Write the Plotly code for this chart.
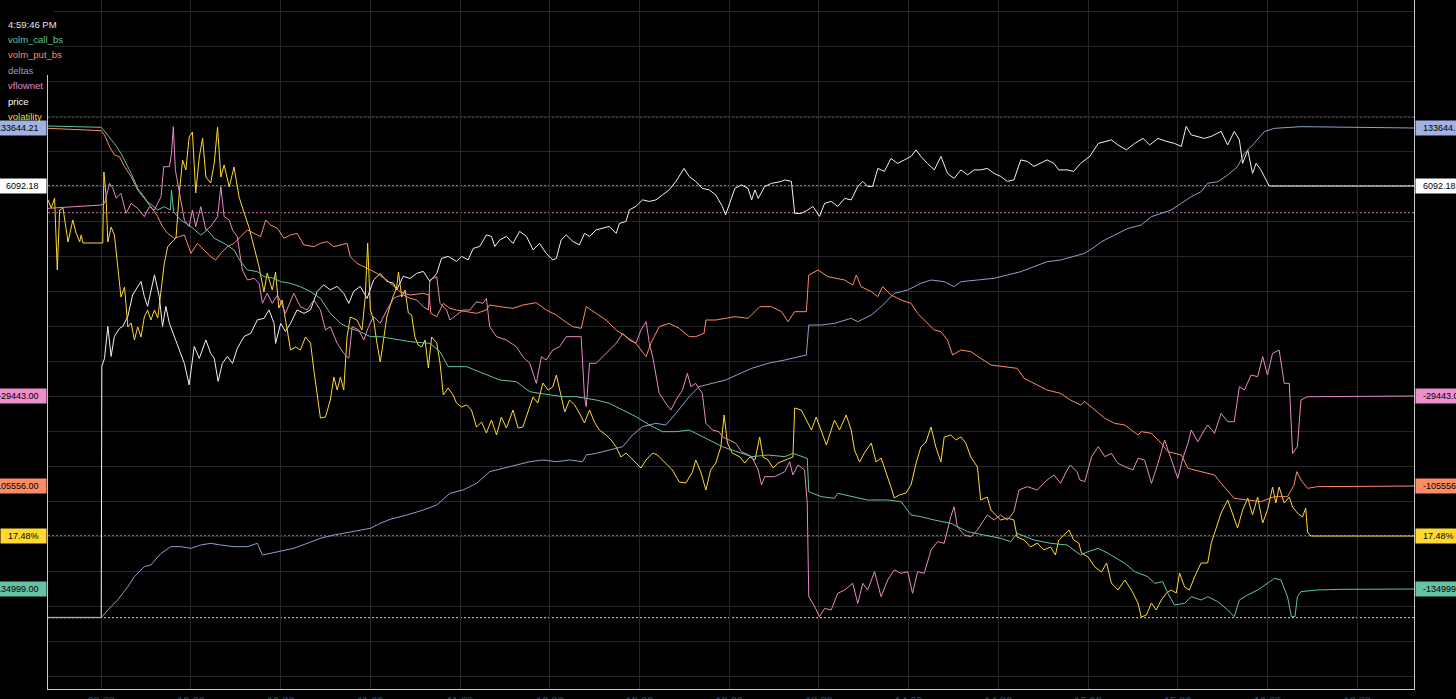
import pandas as pd
import plotly.graph_objects as go

BASE = pd.Timestamp("2024-12-20 09:30:00")

# ---- data: (minutes after 09:30, value) ----
call_pts = [(-17.8, 3901), (0, 3501), (4.4, -1299), (6.6, -4299), (10.0, -10299), (12.2, -14799), (15.5, -18799),
            (18.9, -21299), (21.1, -20299), (23.1, -21299), (23.5, -15299), (24.2, -21799), (26.6, -24299),
            (30.0, -26299), (33.3, -28799), (35.5, -27299), (37.8, -29799), (41.1, -31299), (44.4, -33299),
            (46.6, -36799), (48.9, -39299), (52.2, -39799), (54.4, -41299), (57.8, -41799), (60.0, -42799),
            (63.3, -43299), (66.6, -44299), (70.0, -45799), (73.3, -47799), (76.6, -52299), (80.0, -55299),
            (83.3, -56799), (86.6, -57799), (90.0, -59299), (93.3, -59299), (96.6, -59799), (103.3, -60799),
            (110.0, -61299), (113.3, -63799), (116.0, -68299), (122.2, -68299), (127.7, -70299), (133.3, -72299),
            (138.8, -72799), (143.3, -75799), (146.6, -76299), (154.4, -77299), (158.8, -77299), (165.5, -78299),
            (169.9, -79299), (174.4, -81299), (178.8, -83299), (183.3, -85799), (187.7, -87799), (192.2, -87799),
            (196.6, -87299), (202.2, -89799), (207.7, -92299), (217.5, -95299), (223.0, -94799), (228.6, -95299),
            (231.3, -94299), (236.1, -95799), (236.6, -105799), (240.8, -107299), (245.2, -107799),
            (246.3, -106299), (250.8, -107299), (256.3, -108299), (263.0, -108299), (267.5, -108799),
            (270.8, -112799), (274.1, -113299), (278.6, -114299), (284.1, -115299), (289.7, -117799),
            (295.2, -118799), (300.8, -119799), (304.1, -120799), (306.3, -118299), (311.9, -120299),
            (317.5, -121299), (323.0, -121799), (327.5, -124799), (330.0, -123799), (333.4, -122799),
            (336.7, -124299), (342.3, -127299), (345.6, -129799), (350.0, -131299), (352.3, -133299),
            (355.0, -132799), (356.7, -136299), (358.9, -139799), (362.3, -139299), (364.5, -137299),
            (367.8, -138299), (370.0, -137299), (373.4, -138799), (376.7, -141299), (378.9, -143299),
            (380.6, -138299), (383.4, -136799), (386.7, -135299), (390.0, -133299), (392.3, -131799),
            (394.5, -132299), (396.7, -137299), (398.0, -143299), (399.2, -143299), (400.0, -137299),
            (401.2, -135799), (406.7, -135299), (414.5, -135099), (439.0, -134999)]

put_pts = [(-17.8, 1744), (0, 1044), (1.1, -256), (2.8, -3756), (4.4, -6256), (6.1, -6756), (7.8, -9756),
           (10.0, -12756), (12.2, -16756), (14.4, -19256), (16.6, -21756), (18.9, -24756), (20.5, -27756),
           (22.2, -29756), (24.4, -31256), (26.1, -30756), (27.8, -30256), (30.0, -35756), (32.2, -32756),
           (34.4, -34756), (36.6, -36756), (38.3, -37756), (40.0, -35756), (42.2, -33756), (44.4, -32756),
           (46.6, -30756), (48.9, -28756), (51.1, -29756), (53.3, -30756), (55.0, -25756), (56.6, -27256),
           (58.9, -28256), (61.1, -31256), (63.3, -30256), (65.5, -29756), (67.8, -33256), (71.1, -33756),
           (73.3, -32756), (75.5, -32256), (77.8, -33756), (80.0, -33256), (82.2, -32756), (83.3, -36756),
           (85.5, -38756), (88.9, -40256), (92.2, -41756), (95.5, -43756), (99.9, -47256), (103.3, -48256),
           (107.7, -47756), (109.7, -48256), (110.2, -53756), (112.2, -54756), (114.4, -50756), (116.6, -52256),
           (118.8, -52756), (122.2, -53256), (125.5, -53756), (128.8, -52756), (129.9, -51256), (133.3, -51756),
           (137.7, -52256), (141.0, -51256), (145.5, -50556), (148.8, -52756), (152.2, -54256), (154.4, -55756),
           (157.7, -57756), (160.5, -58256), (162.2, -51756), (165.5, -53756), (168.8, -55756), (172.2, -58756),
           (175.5, -60756), (178.8, -62756), (182.2, -66756), (183.8, -62756), (186.6, -57756), (189.9, -56756),
           (193.3, -58256), (196.6, -60756), (198.8, -60756), (201.6, -59756), (202.2, -55756), (205.5, -55756),
           (208.8, -55256), (211.9, -54756), (216.3, -55256), (220.2, -51756), (224.1, -51756), (227.5, -53256),
           (229.7, -56256), (231.9, -53256), (235.8, -53256), (236.6, -42256), (239.7, -40756), (243.0, -42756),
           (248.6, -43756), (251.3, -45256), (252.5, -42256), (254.1, -45756), (257.5, -47256), (259.7, -48756),
           (261.3, -45756), (264.1, -48256), (267.5, -49756), (270.8, -50756), (273.0, -53756), (276.3, -56756),
           (278.6, -58756), (280.8, -59256), (283.0, -61756), (284.7, -66256), (287.5, -64756), (290.8, -65256),
           (294.1, -67256), (297.5, -69256), (301.9, -69756), (306.3, -70256), (308.6, -73256), (311.9, -74756),
           (316.3, -76756), (320.8, -77756), (324.1, -79756), (327.5, -81256), (328.9, -80256), (332.3, -82756),
           (335.6, -85256), (338.9, -86756), (342.3, -87256), (346.7, -90256), (347.8, -89256), (351.2, -89756),
           (354.5, -92756), (356.7, -95256), (361.2, -96256), (363.4, -100256), (367.8, -101256),
           (372.3, -102256), (374.5, -104756), (378.9, -109256), (383.4, -109756), (387.8, -110256),
           (392.3, -108756), (396.7, -108756), (398.9, -105256), (399.8, -101256), (401.2, -103756),
           (403.4, -106256), (406.7, -105756), (439.0, -105556)]

deltas_pts = [(-17.8, 1434), (0, 1434), (2.2, 3504), (5.5, 6204), (8.9, 9804), (11.1, 12504), (14.4, 15204),
              (16.6, 15654), (20.0, 18804), (23.3, 20604), (26.6, 20604), (30.0, 20154), (33.3, 21054),
              (36.6, 21504), (40.0, 21054), (44.4, 20604), (48.9, 20604), (52.2, 21504), (53.9, 18354),
              (56.6, 18804), (60.0, 19254), (64.4, 20154), (68.9, 21504), (73.3, 22854), (77.8, 23754),
              (82.2, 24384), (86.6, 24924), (90.0, 25554), (93.3, 26904), (96.6, 27984), (102.2, 29154),
              (107.7, 30504), (112.2, 31854), (116.6, 35004), (121.0, 35904), (125.5, 37704), (129.9, 40854),
              (134.4, 41754), (138.8, 42654), (143.3, 43554), (147.7, 44004), (152.2, 43554), (156.6, 44004),
              (161.0, 43554), (162.2, 45354), (165.5, 45804), (169.9, 46704), (174.4, 47604), (177.7, 50754),
              (181.0, 53004), (185.5, 53904), (188.8, 53454), (192.2, 56604), (196.6, 61104), (199.9, 63804),
              (204.4, 64704), (208.8, 65604), (217.5, 68754), (223.0, 70104), (228.6, 71004), (235.8, 72354),
              (236.6, 80454), (240.8, 80454), (245.2, 80904), (250.8, 82254), (253.0, 81354), (257.5, 83154),
              (260.8, 85404), (265.2, 89004), (269.7, 89904), (274.1, 91704), (277.5, 92604), (281.9, 92154),
              (285.2, 90804), (287.5, 92154), (293.0, 92604), (298.6, 93054), (303.0, 93954), (307.5, 94854),
              (311.9, 96204), (316.3, 97554), (320.8, 98004), (325.2, 98904), (328.9, 99804), (332.3, 101604),
              (334.5, 102954), (338.9, 104754), (343.4, 106554), (347.8, 107454), (351.2, 109704),
              (354.5, 110604), (357.8, 111504), (361.2, 113304), (364.5, 115104), (367.8, 116454),
              (370.0, 118704), (373.4, 119154), (376.7, 120954), (380.0, 123204), (382.3, 126804),
              (385.6, 129504), (388.9, 132654), (392.3, 133554), (401.2, 134004), (439.0, 133644.21)]

vflow_pts = [(-17.8, 26857), (0, 27857), (1.1, 28357), (2.8, 34357), (3.9, 32857), (5.0, 29857), (6.6, 31357),
             (8.3, 25357), (10.0, 28357), (12.2, 26857), (14.4, 24357), (16.1, 27357), (17.8, 26357),
             (20.0, 30357), (20.9, 39357), (22.8, 39357), (23.5, 43357), (24.1, 51357), (24.8, 38357),
             (26.1, 32357), (27.8, 23357), (29.4, 21357), (30.5, 26357), (31.6, 21357), (33.3, 27357),
             (35.0, 20357), (36.6, 21357), (38.9, 24357), (40.0, 33357), (41.1, 24357), (42.8, 23357),
             (43.9, 20357), (45.5, 18357), (47.2, 8357), (48.9, 5357), (51.1, 5857), (52.8, 4357), (53.9, -1643),
             (55.5, 1357), (57.2, -1643), (58.9, 857), (60.0, -1143), (61.6, -4643), (64.4, 1357), (66.6, -2643),
             (68.9, -3643), (71.1, -643), (73.3, -3643), (75.0, -9643), (76.6, -8643), (78.9, -13643),
             (81.1, -16643), (82.8, -18143), (83.9, -8643), (86.1, -9643), (87.8, -12643), (89.4, -8643),
             (91.1, -5643), (93.3, -7643), (95.5, -3643), (97.8, -143), (98.8, 357), (101.0, 857), (103.3, -143),
             (105.5, -643), (107.7, -2643), (109.4, -3643), (109.9, 5357), (112.2, 6357), (113.3, -1643),
             (115.5, -3643), (116.6, -6643), (118.8, -5143), (121.0, -3643), (123.3, -3643), (125.5, -1143),
             (127.7, -1643), (128.8, -143), (129.9, -8643), (132.2, -11643), (135.5, -12643), (138.8, -14643),
             (141.0, -17643), (143.3, -19643), (145.5, -25643), (147.2, -17643), (148.8, -18643),
             (151.0, -15643), (153.3, -14643), (155.5, -11643), (160.5, -11643), (161.6, -29643),
             (162.2, -32643), (163.3, -19643), (165.5, -19643), (167.7, -17643), (169.9, -15643),
             (172.2, -13643), (174.4, -10643), (176.6, -12643), (178.8, -13643), (180.5, -9643), (182.2, -7143),
             (183.3, -13643), (184.4, -17643), (185.5, -22643), (186.6, -28643), (188.8, -31643),
             (190.5, -33643), (192.2, -30643), (194.4, -27643), (196.0, -22643), (197.2, -26643),
             (198.8, -25643), (201.0, -28643), (202.2, -37643), (204.4, -39643), (206.6, -40143),
             (207.7, -41643), (209.9, -42643), (212.2, -43643), (214.1, -46143), (217.5, -47643),
             (219.7, -51643), (220.8, -56143), (221.9, -53643), (225.2, -53643), (228.6, -52143),
             (230.2, -49143), (231.3, -53143), (233.0, -50143), (235.2, -51643), (236.1, -61643),
             (236.6, -89643), (238.6, -92643), (240.2, -95643), (241.9, -93143), (244.1, -93643),
             (246.3, -88643), (248.6, -87643), (251.3, -85643), (253.0, -91643), (254.7, -85643),
             (256.3, -87643), (258.6, -82143), (260.8, -89643), (263.0, -84643), (265.2, -81643),
             (267.5, -82643), (269.7, -82143), (271.3, -88643), (273.0, -82143), (275.2, -82643),
             (277.5, -75643), (279.7, -73143), (281.9, -73643), (284.1, -65643), (285.2, -62643),
             (286.3, -68643), (288.6, -71143), (290.8, -71643), (293.0, -69643), (296.3, -65143),
             (298.6, -66643), (300.8, -65143), (303.0, -66643), (305.2, -64143), (306.9, -57643),
             (309.7, -56643), (313.0, -57643), (316.3, -54643), (318.6, -53143), (320.8, -55643),
             (323.0, -51643), (324.1, -50143), (326.3, -52143), (327.3, -54643), (328.9, -55143),
             (331.2, -47643), (333.4, -44643), (335.6, -47643), (337.8, -46643), (340.0, -49643),
             (342.3, -50643), (345.0, -51643), (346.7, -48143), (348.9, -48643), (351.2, -55643),
             (353.4, -49643), (355.6, -42643), (357.8, -48643), (360.0, -54143), (361.7, -48143),
             (363.4, -43643), (364.5, -39643), (366.7, -43143), (368.9, -39643), (370.0, -38143),
             (372.3, -40643), (374.5, -34643), (376.7, -37143), (378.9, -37143), (380.6, -26643),
             (382.3, -27643), (384.5, -23143), (386.7, -23643), (388.4, -17643), (390.0, -23143),
             (391.7, -16643), (393.9, -15643), (395.6, -25643), (397.3, -25643), (398.4, -46643),
             (400.0, -44643), (401.2, -30643), (403.4, -29643), (406.7, -29643), (439.0, -29443)]

price_pts = [(-17.8, 6005.9), (0, 6005.9), (0.2, 6056.1), (1.1, 6057.7), (2.2, 6064.1), (3.3, 6058.1),
             (4.4, 6062.1), (6.1, 6063.7), (7.2, 6064.1), (8.9, 6066.1), (10.5, 6070.4), (12.2, 6072.1),
             (13.3, 6073.1), (14.4, 6070.1), (15.5, 6068.1), (17.8, 6074.4), (19.4, 6070.1), (20.5, 6064.1),
             (21.6, 6068.1), (22.8, 6064.7), (24.4, 6062.1), (26.1, 6059.4), (27.8, 6056.7), (29.4, 6052.4),
             (31.1, 6060.1), (32.8, 6057.7), (35.0, 6061.4), (36.6, 6058.7), (37.8, 6057.7), (39.1, 6053.1),
             (40.5, 6056.7), (42.2, 6058.1), (43.9, 6056.7), (45.5, 6059.7), (47.8, 6062.1), (50.0, 6062.7),
             (52.2, 6065.4), (54.4, 6065.7), (56.1, 6067.4), (57.8, 6064.7), (58.3, 6060.7), (60.0, 6064.7),
             (61.6, 6063.1), (63.3, 6064.7), (65.5, 6067.4), (67.8, 6066.7), (70.0, 6067.4), (72.2, 6071.1),
             (74.4, 6072.4), (76.6, 6071.4), (78.9, 6072.1), (81.1, 6070.7), (82.8, 6068.7), (84.4, 6071.1),
             (86.6, 6072.1), (88.9, 6069.7), (91.1, 6073.4), (93.3, 6074.7), (95.5, 6073.1), (97.8, 6072.7),
             (98.8, 6071.4), (101.0, 6074.1), (103.3, 6073.7), (105.5, 6074.7), (107.7, 6075.1), (109.9, 6073.1),
             (112.2, 6074.7), (113.8, 6077.7), (116.0, 6078.1), (118.8, 6077.1), (120.5, 6078.1), (122.7, 6077.4),
             (124.4, 6079.7), (126.6, 6080.1), (128.8, 6082.4), (130.5, 6082.1), (131.6, 6080.1), (133.3, 6081.4),
             (135.5, 6082.1), (137.7, 6080.7), (139.9, 6083.1), (142.2, 6082.1), (144.4, 6079.4), (146.6, 6080.7),
             (148.8, 6078.7), (151.0, 6077.4), (152.2, 6077.7), (153.8, 6081.4), (155.5, 6082.4), (157.7, 6081.1),
             (159.9, 6080.4), (161.6, 6082.7), (163.3, 6082.1), (165.5, 6083.4), (167.7, 6083.7), (169.9, 6084.1),
             (172.2, 6082.7), (173.3, 6084.7), (175.5, 6085.1), (176.6, 6087.4), (178.8, 6088.1), (181.0, 6089.4),
             (183.3, 6089.1), (185.5, 6089.4), (187.7, 6090.4), (189.9, 6091.4), (192.2, 6093.1), (194.9, 6095.7),
             (196.6, 6094.1), (198.8, 6093.1), (201.0, 6091.7), (203.3, 6091.4), (205.5, 6090.4), (207.7, 6088.1),
             (208.8, 6086.4), (211.0, 6090.1), (211.9, 6091.7), (214.1, 6092.4), (216.3, 6091.7), (217.5, 6089.4),
             (218.6, 6091.4), (219.7, 6089.7), (221.9, 6092.1), (224.1, 6092.7), (227.5, 6093.1), (228.6, 6093.4),
             (230.8, 6093.1), (231.9, 6086.7), (234.1, 6086.7), (236.3, 6087.4), (238.0, 6088.1), (240.2, 6086.1),
             (241.9, 6088.7), (244.1, 6089.1), (246.3, 6088.1), (248.6, 6089.7), (250.8, 6089.4), (253.0, 6092.1),
             (254.7, 6093.1), (256.3, 6092.1), (258.0, 6092.1), (259.7, 6095.7), (261.9, 6095.1), (264.1, 6097.7),
             (266.3, 6096.7), (268.6, 6097.4), (270.8, 6098.1), (272.5, 6099.4), (274.1, 6098.1), (276.3, 6096.7),
             (278.6, 6095.4), (280.8, 6098.1), (283.0, 6094.7), (285.2, 6093.7), (287.5, 6095.4), (289.7, 6094.4),
             (291.9, 6095.4), (294.1, 6095.4), (296.3, 6095.7), (298.6, 6094.7), (300.8, 6094.1), (303.0, 6093.1),
             (305.2, 6093.4), (307.5, 6097.4), (309.7, 6097.1), (311.9, 6096.1), (314.1, 6096.7), (316.3, 6097.4),
             (318.6, 6096.7), (320.2, 6095.4), (323.0, 6095.4), (325.2, 6095.1), (327.5, 6096.7), (330.6, 6098.1),
             (333.4, 6100.7), (335.6, 6101.1), (337.8, 6101.4), (340.0, 6100.4), (342.8, 6099.4), (345.6, 6100.7),
             (348.4, 6101.7), (350.6, 6100.4), (353.4, 6101.7), (356.2, 6101.1), (358.9, 6100.7), (361.2, 6100.1),
             (362.8, 6104.1), (364.5, 6102.4), (366.7, 6102.1), (368.9, 6101.7), (371.2, 6102.1), (374.5, 6103.1),
             (376.7, 6100.4), (378.9, 6103.1), (380.6, 6101.4), (381.7, 6096.7), (383.4, 6099.4), (385.0, 6094.7),
             (386.2, 6096.7), (387.8, 6095.4), (389.5, 6093.4), (390.6, 6092.18), (439.0, 6092.18)]

vol_pts = [(-17.8, 20.84), (-16.7, 20.76), (-15.6, 20.86), (-14.7, 20.14), (-13.9, 20.74), (-12.8, 20.76),
           (-12.2, 20.64), (-11.1, 20.42), (-9.5, 20.64), (-8.4, 20.51), (-7.2, 20.42), (-6.7, 20.49),
           (-6.1, 20.41), (0.5, 20.41), (0.9, 21.12), (1.6, 20.89), (2.2, 20.42), (3.3, 20.57), (4.4, 20.49),
           (5.5, 20.21), (6.6, 19.87), (7.8, 19.97), (8.9, 19.57), (10.0, 19.61), (11.1, 19.44), (12.2, 19.57),
           (13.3, 19.47), (14.4, 19.67), (15.5, 19.74), (16.6, 19.64), (17.8, 19.74), (18.9, 19.66), (20.0, 19.94),
           (21.1, 20.21), (22.2, 20.37), (23.3, 20.41), (25.0, 20.46), (26.1, 20.91), (27.2, 21.24), (28.3, 21.14),
           (29.4, 21.47), (30.5, 21.52), (31.6, 20.91), (32.8, 21.27), (33.9, 21.46), (35.0, 21.07), (36.6, 21.01),
           (37.8, 21.21), (38.9, 21.57), (40.0, 21.07), (41.1, 21.19), (42.8, 20.97), (44.4, 21.17), (46.1, 20.87),
           (47.8, 20.71), (49.4, 20.57), (51.1, 20.37), (52.8, 20.17), (54.4, 19.92), (55.5, 20.11), (57.2, 19.94),
           (58.3, 20.12), (59.4, 19.76), (60.5, 19.84), (62.2, 19.54), (63.3, 19.34), (65.0, 19.37), (66.6, 19.34),
           (68.3, 19.47), (70.0, 19.41), (71.1, 19.14), (72.2, 18.87), (73.3, 18.66), (75.0, 18.67), (76.6, 18.84),
           (77.8, 19.07), (78.9, 18.94), (80.0, 19.07), (81.1, 18.94), (82.2, 19.47), (83.3, 19.67), (85.5, 19.64),
           (87.2, 19.54), (88.3, 19.87), (89.1, 20.41), (90.0, 19.74), (91.1, 19.64), (92.2, 19.41), (93.3, 19.22),
           (94.4, 19.44), (95.5, 19.67), (97.2, 19.84), (98.8, 19.97), (99.4, 20.12), (100.5, 19.87),
           (101.6, 19.94), (102.7, 19.71), (103.8, 19.69), (104.9, 19.47), (106.0, 19.39), (107.2, 19.37),
           (108.3, 19.44), (109.4, 19.16), (110.5, 19.47), (112.2, 19.41), (113.3, 19.21), (114.4, 18.89),
           (116.0, 18.96), (117.7, 18.89), (118.8, 18.81), (120.5, 18.77), (122.2, 18.79), (123.8, 18.74),
           (125.5, 18.57), (127.2, 18.62), (128.8, 18.51), (130.5, 18.64), (132.2, 18.49), (133.8, 18.67),
           (135.5, 18.56), (137.7, 18.74), (139.4, 18.56), (141.0, 18.57), (142.7, 18.72), (144.4, 18.87),
           (146.0, 18.81), (147.7, 19.01), (149.4, 18.94), (151.0, 18.97), (152.2, 19.09), (153.8, 18.87),
           (155.0, 18.72), (156.6, 18.84), (158.3, 18.79), (159.9, 18.71), (161.6, 18.61), (163.3, 18.74),
           (164.9, 18.62), (166.6, 18.54), (168.8, 18.49), (170.5, 18.44), (172.2, 18.37), (173.8, 18.27),
           (175.5, 18.31), (177.2, 18.26), (178.8, 18.21), (180.5, 18.16), (182.2, 18.24), (184.4, 18.31),
           (186.0, 18.29), (188.8, 18.21), (191.0, 18.14), (193.3, 18.02), (195.5, 18.01), (197.7, 18.12),
           (198.8, 18.24), (200.5, 18.12), (202.2, 17.94), (203.8, 18.14), (205.5, 18.21), (207.2, 18.37),
           (208.3, 18.69), (209.4, 18.41), (211.0, 18.31), (213.6, 18.27), (215.2, 18.21), (216.9, 18.27),
           (218.6, 18.24), (220.2, 18.47), (221.3, 18.27), (223.0, 18.24), (224.7, 18.16), (226.3, 18.21),
           (228.6, 18.24), (231.3, 18.27), (231.9, 18.76), (234.1, 18.74), (235.8, 18.64), (237.5, 18.54),
           (239.1, 18.67), (240.8, 18.54), (242.5, 18.39), (244.1, 18.54), (245.2, 18.64), (246.9, 18.54),
           (249.1, 18.69), (250.8, 18.54), (251.9, 18.34), (253.6, 18.22), (255.2, 18.31), (257.5, 18.41),
           (259.1, 18.22), (260.8, 18.26), (262.5, 18.12), (264.1, 17.97), (265.2, 17.86), (266.9, 17.89),
           (269.1, 17.91), (270.8, 17.99), (272.5, 18.21), (274.1, 18.37), (275.8, 18.42), (277.5, 18.57),
           (279.1, 18.37), (280.8, 18.22), (281.9, 18.47), (284.1, 18.49), (285.8, 18.44), (287.5, 18.47),
           (289.1, 18.41), (290.8, 18.27), (293.0, 18.17), (294.1, 17.84), (296.3, 17.87), (297.5, 17.74),
           (299.1, 17.69), (300.8, 17.64), (303.0, 17.66), (305.2, 17.64), (306.3, 17.47), (308.6, 17.44),
           (310.8, 17.37), (313.0, 17.41), (315.2, 17.34), (317.5, 17.37), (319.1, 17.29), (320.2, 17.44),
           (321.9, 17.49), (323.6, 17.54), (325.2, 17.44), (326.9, 17.41), (327.8, 17.31), (330.0, 17.27),
           (332.3, 17.17), (334.5, 17.12), (336.2, 17.21), (337.8, 17.01), (340.0, 16.94), (342.3, 17.04),
           (344.5, 16.94), (346.7, 16.81), (347.8, 16.67), (349.5, 16.69), (351.2, 16.81), (352.8, 16.74),
           (354.5, 16.84), (356.2, 16.91), (357.8, 16.94), (359.5, 16.91), (360.6, 17.11), (362.3, 16.97),
           (363.9, 16.94), (365.6, 17.07), (367.8, 17.21), (370.0, 17.21), (371.2, 17.41), (372.3, 17.51),
           (374.5, 17.71), (376.7, 17.84), (378.4, 17.69), (380.0, 17.56), (381.7, 17.74), (383.4, 17.86),
           (385.0, 17.69), (386.7, 17.87), (388.4, 17.61), (390.0, 17.74), (391.7, 17.97), (392.8, 17.81),
           (393.9, 17.97), (395.6, 17.81), (397.3, 17.87), (398.4, 17.77), (400.0, 17.71), (401.7, 17.67),
           (402.8, 17.76), (403.4, 17.52), (404.5, 17.48), (439.0, 17.48)]

series_names = ["deltas", "volm_call_bs", "volm_put_bs", "vflownet", "price", "volatility"]
series_data = [deltas_pts, call_pts, put_pts, vflow_pts, price_pts, vol_pts]
series_colors = ["#8da0cb", "#66c2a5", "#fc8d62", "#e78ac3", "#f2f2f2", "#ffd92f"]
series_axes = ["y3", "y6", "y5", "y4", "y", "y2"]

last_labels = ["133644.21", "-134999.00", "-105556.00", "-29443.00", "6092.18", "17.48%"]
last_values = [133644.21, -134999, -105556, -29443, 6092.18, 17.48]
label_bg = ["#9fb2e0", "#66c2a5", "#fc8d62", "#ee8fcb", "#ffffff", "#ffd92f"]

legend_title = "4:59:46 PM"
legend_order = ["volm_call_bs", "volm_put_bs", "deltas", "vflownet", "price", "volatility"]

ref_axes = ["y", "y4", "y", "y2", "y"]
ref_values = [6106.0, 25550, 6092.18, 17.48, 6005.84]
ref_colors = ["#e8917a", "#c77aab", "#ffffff", "#ffd92f", "#dddddd"]

x_start, x_end = -17.8, 439.0
tick_start = 0


def to_time(mins):
    return [BASE + pd.Timedelta(minutes=m) for m in mins]


axis_ranges = {
    "y": [5991.58, 6129.38],
    "y2": [15.95, 22.84],
    "y3": [-17825.79, 168204.21],
    "y4": [-117343, 89357],
    "y5": [-166456, 40244],
    "y6": [-164999, 41701],
}

fig = go.Figure()
for name, pts, color, ax in zip(series_names, series_data, series_colors, series_axes):
    mins = [p[0] for p in pts]
    vals = [p[1] for p in pts]
    fig.add_trace(go.Scatter(x=to_time(mins), y=vals, mode="lines", name=name,
                             line=dict(color=color, width=1), yaxis=ax, hoverinfo="skip"))

grid = "#262626"
layout = dict(
    width=1456, height=699, template="none",
    margin=dict(l=48, r=42, t=0, b=10),
    paper_bgcolor="#000000", plot_bgcolor="#000000", showlegend=False,
    font=dict(family="Liberation Sans, Arial, sans-serif", color="#dddddd"),
    xaxis=dict(type="date", range=to_time([x_start, x_end]), tick0=to_time([tick_start])[0],
               dtick=30 * 60 * 1000, tickformat="%H:%M", showgrid=True, gridcolor=grid, gridwidth=1,
               showline=True, linecolor="#c8c8c8", linewidth=1, zeroline=False, ticks="",
               ticklabelstandoff=2,
               tickfont=dict(size=11, color="#2d4a78"), automargin=False, fixedrange=True),
    yaxis=dict(range=axis_ranges["y"], tick0=6092.04, dtick=7, showgrid=True, gridcolor=grid, gridwidth=1,
               showticklabels=False, showline=True, mirror=True, linecolor="#c8c8c8", linewidth=1,
               zeroline=False, ticks="", automargin=False, fixedrange=True),
)
for ax in ["y2", "y3", "y4", "y5", "y6"]:
    layout["yaxis" + ax[1:]] = dict(range=axis_ranges[ax], overlaying="y", visible=False,
                                     showgrid=False, zeroline=False, fixedrange=True)
fig.update_layout(**layout)

# reference dotted lines
for ax, v, c in zip(ref_axes, ref_values, ref_colors):
    fig.add_shape(type="line", xref="paper", x0=0, x1=1, yref=ax, y0=v, y1=v,
                  line=dict(color=c, width=1, dash="2px,2px"), layer="below")

# legend panel hides the top of the left border
fig.add_shape(type="rect", xref="paper", yref="paper", x0=-0.004, x1=0.004,
              y0=1 - 75 / 689, y1=1.0, fillcolor="#000000", line=dict(width=0), layer="above")

# last-value labels on both sides
nb = "\u00a0"
for ax, txt, v, bg in zip(series_axes, last_labels, last_values, label_bg):
    for side in ("left", "right"):
        fig.add_annotation(xref="paper", x=0 if side == "left" else 1, yref=ax, y=v,
                           xanchor="right" if side == "left" else "left", yanchor="middle",
                           xshift=-1 if side == "left" else 1,
                           text=nb * 2 + txt + nb * 2, showarrow=False, bgcolor=bg, borderpad=2,
                           font=dict(size=9, color="#000000"))

# top-left legend
legend_colors = {n: c for n, c in zip(series_names, series_colors)}
legend_colors["price"] = "#ffffff"
rows = [legend_title] + legend_order
row_colors = ["#e6e6e6"] + [legend_colors[n] for n in legend_order]
for i, (txt, col) in enumerate(zip(rows, row_colors)):
    fig.add_annotation(xref="paper", yref="paper", x=0, y=1, xanchor="left", yanchor="middle",
                       xshift=-42, yshift=-(24 + 15.4 * i), text=txt, showarrow=False,
                       font=dict(size=9.5, color=col))

fig.write_html("out.html", config={"displayModeBar": False},
               post_script="document.body.style.margin='0';document.body.style.background='#000';")
